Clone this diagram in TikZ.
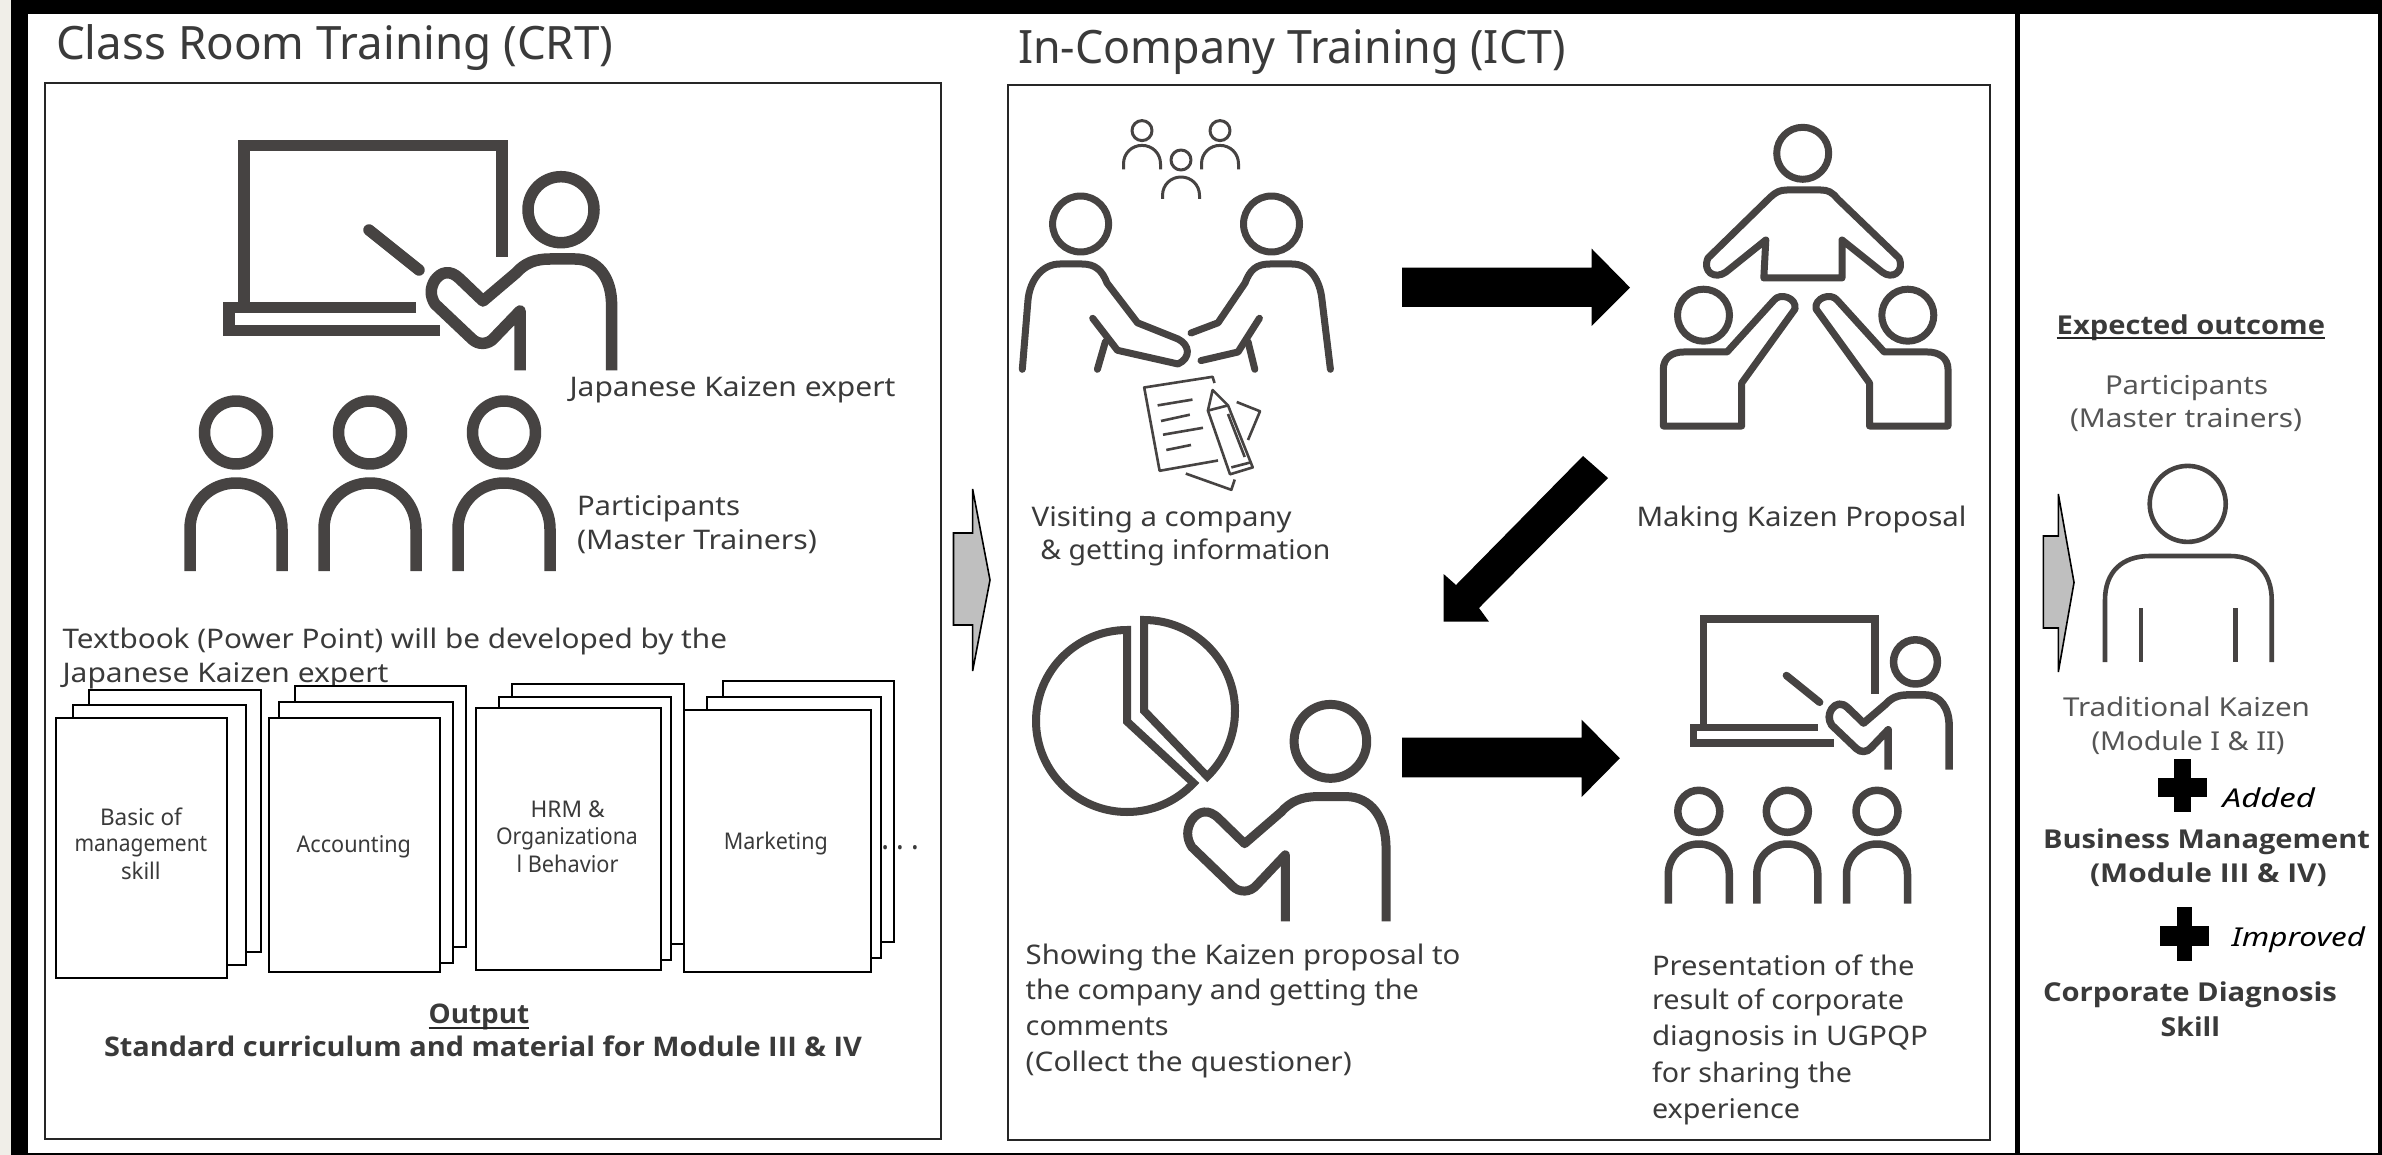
\documentclass[tikz,border=0pt]{standalone}
\usepackage{graphicx}
\usepackage{fontspec}
\setmainfont{Noto Sans}
\newfontfamily\boldfam{Open Sans}
\definecolor{ink}{HTML}{464342}
\definecolor{txt}{HTML}{3A3A3A}
\definecolor{softtxt}{HTML}{555555}
\definecolor{strip}{HTML}{F0EEE8}
\definecolor{greyarrow}{HTML}{BFBFBF}
\tikzset{
  icon/.style={draw=ink,line join=round,fill=none},
  sheet/.style={draw=black,line width=2pt,fill=white,outer sep=0pt},
  panel/.style={draw=black!85,line width=2pt,fill=none,outer sep=0pt},
  blockarrow/.style={fill=black,draw=none},
  greyblock/.style={fill=greyarrow,draw=black,line width=1.6pt,line join=miter},
  lblnode/.style={anchor=base west,inner sep=0pt,outer sep=0pt,text=txt},
  softlbl/.style={text=softtxt},
  underrule/.style={draw=black!85,line width=2pt},
}
% name, x, baseline, width, size, text
\newcommand{\lbl}[6]{\node[lblnode] (#1) at (#2,#3) {\resizebox{#4pt}{\height}{\fontsize{#5}{#5}\selectfont #6}};}
\newcommand{\boldtxt}[1]{{\boldfam\bfseries #1}}
\newcommand{\pers}[6]{% cx, head cy, head r, half width, body top, body bottom
  \draw[icon] (#1,#2) circle[radius=#3pt];
  \draw[icon] (#1-#4,#6) -- (#1-#4,#5+#4) .. controls (#1-#4,#5+0.42*#4) and (#1-0.55*#4,#5) .. (#1,#5)
     .. controls (#1+0.55*#4,#5) and (#1+#4,#5+0.42*#4) .. (#1+#4,#5+#4) -- (#1+#4,#6);
}
\newcommand{\teacherbody}[1]{%
  \draw[icon,line width=#1pt] (561,209.7) circle[radius=33pt];
  \draw[icon,line width=#1pt] (611.6,370.5) -- (611.6,305) .. controls (611.6,278) and (598,259) .. (575,259)
     -- (550,259) .. controls (535,259) and (525,263) .. (516,273) -- (483,301) -- (460,279)
     .. controls (450,269) and (441,272) .. (435,280) .. controls (430,288) and (430,296) .. (435,304)
     -- (472,339) .. controls (478,345) and (488,345) .. (494,338) -- (520,311) -- (520,370.5);
}
\newcommand{\teacherboard}[1]{%
  \draw[icon,line width=#1pt,line join=miter] (244,302) -- (244,145.4) -- (502,145.4) -- (502,257);
  \draw[icon,line width=#1pt,line join=miter] (416,307.5) -- (229,307.5) -- (229,330.5) -- (440,330.5);
  \draw[icon,line width=#1pt,line cap=round] (369,230) -- (419,270);
}
\begin{document}
\begin{tikzpicture}[x=1pt,y=-1pt]
\useasboundingbox (0,0) rectangle (2382,1155);
% frame
\fill[strip] (0,0) rectangle (11,1155);
\fill[black] (11,0) rectangle (2382,1155);
\fill[white] (28,14.5) rectangle (2378,1153);
\fill[black] (2015,14) rectangle (2020,1153);
% panels
\node[panel,anchor=north west,minimum width=896.4pt,minimum height=1056.3pt,inner sep=0pt] (crt) at (44.6,82.7) {};
\node[panel,anchor=north west,minimum width=982.4pt,minimum height=1054pt,inner sep=0pt] (ict) at (1007.6,85.5) {};
\lbl{crttitle}{56}{60}{557.5}{46}{Class Room Training (CRT)}
\lbl{icttitle}{1018}{63.5}{547.6}{46}{In-Company Training (ICT)}
% big teacher
\teacherboard{11.5}
\teacherbody{11.5}
\lbl{expert}{569.5}{396}{326}{27}{Japanese Kaizen expert}
% three participants
\begin{scope}[line width=11.5pt]
\pers{236}{432.5}{31.5}{46}{483}{571}
\pers{370}{432.5}{31.5}{46}{483}{571}
\pers{504}{432.5}{31.5}{46}{483}{571}
\end{scope}
\lbl{part}{577}{515.5}{163}{27}{Participants}
\lbl{mast}{577}{549}{240}{27}{(Master Trainers)}
\lbl{tb1}{62.5}{648}{664.5}{27}{Textbook (Power Point) will be developed by the}
\lbl{tb2}{62.5}{682}{326}{27}{Japanese Kaizen expert}
% page stacks
\draw[sheet] (89,689.6) rectangle (261,952);
\draw[sheet] (73.3,704.8) rectangle (245.5,965);
\node[sheet,anchor=north west,minimum width=171.5pt,minimum height=260pt,inner sep=0pt] (s1) at (55.5,718) {};
\draw[sheet] (294.6,686) rectangle (465.6,947);
\draw[sheet] (278.7,702) rectangle (453,962.5);
\node[sheet,anchor=north west,minimum width=171.5pt,minimum height=254.4pt,inner sep=0pt] (s2) at (268.5,718) {};
\draw[sheet] (512,684) rectangle (683.7,944.4);
\draw[sheet] (499,696.6) rectangle (671,960);
\node[sheet,anchor=north west,minimum width=184.9pt,minimum height=262.4pt,inner sep=0pt] (s3) at (475.8,707.6) {};
\draw[sheet] (722.6,681.4) rectangle (894,942);
\draw[sheet] (706.6,696.6) rectangle (881.4,957.5);
\node[sheet,anchor=north west,minimum width=187.3pt,minimum height=262.4pt,inner sep=0pt] (s4) at (683.7,710) {};
\lbl{p1a}{100}{825.5}{82}{23}{Basic of}
\lbl{p1b}{74.6}{851}{132.7}{23}{management}
\lbl{p1c}{121}{879.6}{39.7}{23}{skill}
\lbl{p2a}{296.6}{852}{114.4}{23}{Accounting}
\lbl{p3a}{530.6}{817.7}{74}{23}{HRM \&}
\lbl{p3b}{496}{844}{141.8}{23}{Organizationa}
\lbl{p3c}{516.6}{872.6}{102}{23}{l Behavior}
\lbl{p4a}{723.9}{849.6}{103.9}{23}{Marketing}
\lbl{dots}{882}{849.6}{36}{26}{\boldtxt{.\hspace{0.4em}.\hspace{0.4em}.}}
\lbl{outa}{428.6}{1023}{100.7}{27}{\boldtxt{Output}}
\draw[underrule] ([yshift=1.5pt]outa.south west) -- ([yshift=1.5pt]outa.south east);
\lbl{outb}{104}{1056.6}{758}{27}{\boldtxt{Standard curriculum and material for Module III \& IV}}
% grey arrows
\draw[greyblock] (953.5,533) -- (972.6,533) -- (972.6,489) -- (990,580) -- (972.6,671) -- (972.6,625) -- (953.5,625) -- cycle;
\draw[greyblock] (2043.3,536) -- (2058.3,536) -- (2058.3,494) -- (2074,582.5) -- (2058.3,672) -- (2058.3,628) -- (2043.3,628) -- cycle;
% black arrows
\fill[blockarrow] (1402,267.7) -- (1591.7,267.7) -- (1591.7,248.7) -- (1630,287.6) -- (1591.7,326) -- (1591.7,307) -- (1402,307) -- cycle;
\fill[blockarrow] (1583,456) -- (1608,478) -- (1479,608) -- (1489,621.7) -- (1443.6,621.7) -- (1443.6,574) -- (1456,585) -- cycle;
\fill[blockarrow] (1402,737.7) -- (1581.6,737.7) -- (1581.6,719.7) -- (1619.8,758.3) -- (1581.6,797) -- (1581.6,777.4) -- (1402,777.4) -- cycle;
% tiny participants
\begin{scope}[line width=3pt]
\pers{1142}{130.6}{10}{18.5}{145.4}{169.5}
\pers{1220}{130.6}{10}{18.5}{145.4}{169.5}
\pers{1181}{160}{10}{18.5}{177}{199}
\end{scope}
% handshake
\begin{scope}[line width=7pt,line cap=round]
\draw[icon] (1080.6,224) circle[radius=28pt];
\draw[icon] (1271.5,224) circle[radius=28pt];
\draw[icon] (1022.3,369.3) -- (1028,300) .. controls (1030,280) and (1042,264) .. (1060,264) -- (1082,264)
   .. controls (1095,264) and (1102,270) .. (1107,283) -- (1137.5,322.8) -- (1178,339)
   .. controls (1190,345) and (1191,358) .. (1178,364) -- (1117.4,350.3) -- (1092.7,318.3);
\draw[icon] (1105.4,341.7) -- (1097.4,369.3);
\draw[icon] (1330.4,369.3) -- (1322,300) .. controls (1320,280) and (1310,264) .. (1292,264) -- (1270,264)
   .. controls (1256,264) and (1250,270) .. (1245,283) -- (1218,322.8) -- (1191,333);
\draw[icon] (1201,360.6) -- (1238,352) -- (1259.4,318.3);
\draw[icon] (1248,341.7) -- (1254.8,369.3);
\end{scope}
% document and pencil
\begin{scope}[line width=2.6pt]
\draw[icon] (1214.5,383) -- (1212.6,376.8) -- (1144.2,387.5) -- (1159.6,470.8) -- (1218,460.5);
\draw[icon] (1157.6,405.4) -- (1192.5,399.6);
\draw[icon] (1161,421) -- (1189.8,414.7);
\draw[icon] (1163,434.7) -- (1203,427.8);
\draw[icon] (1166.3,450) -- (1191,445);
\draw[icon] (1212.6,390) -- (1207.9,410.6) -- (1230,474.3) -- (1252.7,467.4) -- (1228,405.4) -- cycle;
\draw[icon] (1207.9,410.6) -- (1228,405.4);
\draw[icon] (1228,414) -- (1244.7,457);
\draw[icon] (1231.3,467.4) -- (1251.4,462.2);
\draw[icon] (1236.7,402) -- (1260,411.3) -- (1248,440);
\draw[icon] (1185.8,473.6) -- (1231.3,489.8) -- (1234.7,479.5);
\end{scope}
\lbl{v1}{1031.7}{526}{260}{27}{Visiting a company}
\lbl{v2}{1040.4}{559.3}{290}{27}{\& getting information}
% sitting group
\begin{scope}[line width=7pt]
\draw[icon] (1802.7,153.3) circle[radius=26pt];
\draw[icon] (1703.5,315.2) circle[radius=26pt];
\draw[icon] (1907.8,315.2) circle[radius=26pt];
\draw[icon] (1763.8,278) -- (1765.8,240) -- (1726,272) .. controls (1715,280) and (1702,272) .. (1708,258)
  -- (1770.5,197) .. controls (1776,192) and (1780,190) .. (1787,190) -- (1820.7,190)
  .. controls (1828,190) and (1832,192) .. (1837.5,198.8) -- (1899,258)
  .. controls (1905,272) and (1892,280) .. (1882,272) -- (1842,240) -- (1842,278) -- cycle;
\draw[icon] (1663.3,426) -- (1663.3,369.3) .. controls (1663.3,358) and (1672,352) .. (1683.5,352)
  -- (1727,352) -- (1773.8,300.4) .. controls (1780,292) and (1797,298) .. (1795,309)
  -- (1741.7,383) -- (1741.7,426) -- cycle;
\draw[icon] (1948,426) -- (1948,369.3) .. controls (1948,358) and (1939,352) .. (1927.7,352)
  -- (1884.2,352) -- (1837.4,300.4) .. controls (1831,292) and (1814,298) .. (1816,309)
  -- (1869.5,383) -- (1869.5,426) -- cycle;
\end{scope}
\lbl{mk}{1636.5}{526}{330}{27}{Making Kaizen Proposal}
% pie
\begin{scope}[line width=8pt]
\draw[icon,line join=miter] (1127,630) arc[start angle=90,end angle=317,radius=91pt] -- (1127,721.5) -- cycle;
\draw[icon,line join=miter] (1144,620) arc[start angle=90,end angle=-46,radius=91pt] -- (1144,710.7) -- cycle;
\end{scope}
\begin{scope}[shift={(713.3,506.5)},xscale=1.1,yscale=1.12]
\teacherbody{9}
\end{scope}
\lbl{s1t}{1025.7}{964.8}{434.7}{27}{Showing the Kaizen proposal to}
\lbl{s2t}{1025.7}{999}{393.2}{27}{the company and getting the}
\lbl{s3t}{1025.7}{1035}{143}{27}{comments}
\lbl{s4t}{1025.7}{1071}{326}{27}{(Collect the questioner)}
% small teacher and audience
\begin{scope}[shift={(1541,521.4)},xscale=0.665,yscale=0.67]
\teacherboard{7.5}
\end{scope}
\begin{scope}[shift={(1542.4,521.4)},xscale=0.665,yscale=0.67]
\teacherbody{7.5}
\end{scope}
\begin{scope}[line width=7.5pt]
\pers{1698.8}{811.3}{21}{30.5}{844}{903.5}
\pers{1787.3}{811.3}{21}{30.5}{844}{903.5}
\pers{1877}{811.3}{21}{30.5}{844}{903.5}
\end{scope}
\lbl{r1}{1652}{975.6}{262.5}{27}{Presentation of the}
\lbl{r2}{1652}{1009.8}{252}{27}{result of corporate}
\lbl{r3}{1652}{1045.9}{276}{27}{diagnosis in UGPQP}
\lbl{r4}{1652}{1082}{200}{27}{for sharing the}
\lbl{r5}{1652}{1118}{148}{27}{experience}
% outcome column
\lbl{eo}{2056.7}{334.7}{268.3}{26}{\boldtxt{Expected outcome}}
\draw[underrule] ([yshift=2.5pt]eo.south west) -- ([yshift=2.5pt]eo.south east);
\lbl{o1}{2105}{394.4}{163}{26}{\textcolor{softtxt}{Participants}}
\lbl{o2}{2070}{428}{232}{26}{\textcolor{softtxt}{(Master trainers)}}
\begin{scope}[line width=4.6pt]
\draw[icon] (2187.7,503.9) circle[radius=38pt];
\draw[icon] (2105,662) -- (2105,600) .. controls (2105,572) and (2122,556) .. (2150,556) -- (2230,556)
  .. controls (2255,556) and (2271.7,572) .. (2271.7,600) -- (2271.7,662);
\draw[icon] (2141,608.4) -- (2141,662);
\draw[icon] (2235.7,608.4) -- (2235.7,662);
\end{scope}
\lbl{o3}{2063}{716.8}{247}{26}{\textcolor{softtxt}{Traditional Kaizen}}
\lbl{o4}{2091.5}{750}{193}{26}{\textcolor{softtxt}{(Module I \& II)}}
\fill[black] (2174,758.6) rectangle (2191,812.3);
\fill[black] (2157.7,777.5) rectangle (2206.7,797.4);
\lbl{o5}{2222.7}{807.4}{92.3}{26}{\textcolor{black}{\itshape Added}}
\lbl{o6}{2043}{848.7}{327}{26}{\boldtxt{Business Management}}
\lbl{o7}{2090}{882}{236.7}{26}{\boldtxt{(Module III \& IV)}}
\fill[black] (2176.7,906.9) rectangle (2192.3,960.6);
\fill[black] (2160,925.8) rectangle (2209.3,945.7);
\lbl{o8}{2231.7}{946.7}{133.3}{26}{\textcolor{black}{\itshape Improved}}
\lbl{o9}{2043}{1001.4}{294}{26}{\boldtxt{Corporate Diagnosis}}
\lbl{o10}{2160.7}{1036}{59.3}{26}{\boldtxt{Skill}}
\end{tikzpicture}
\end{document}
